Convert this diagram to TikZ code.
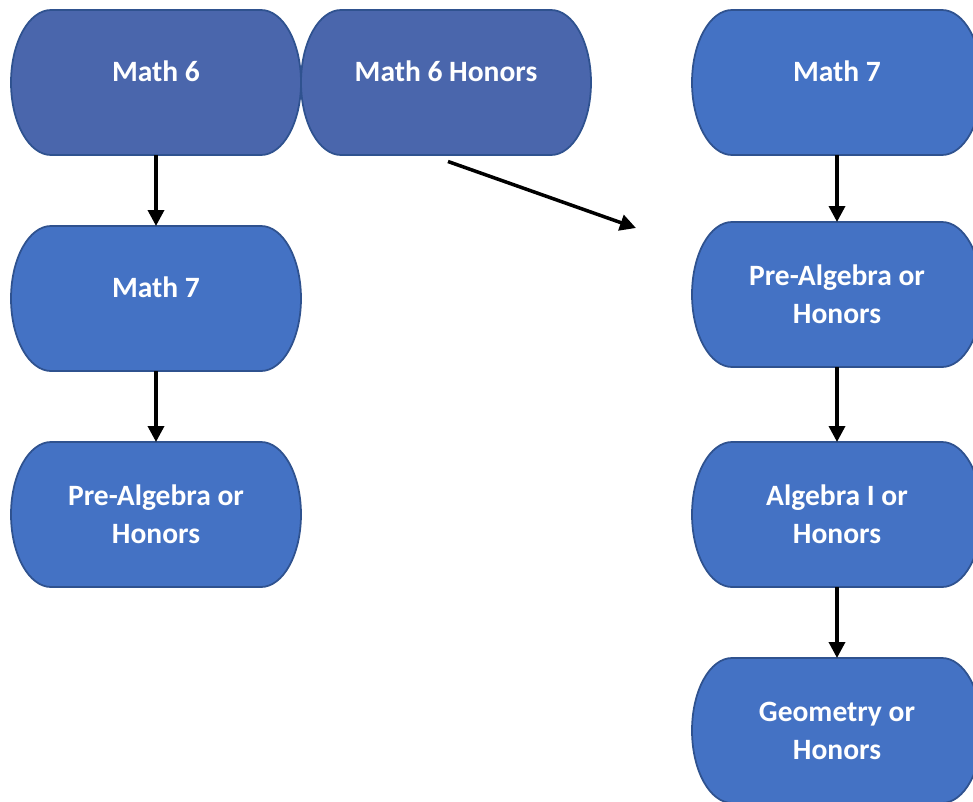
\documentclass[tikz,border=0pt]{standalone}
\usepackage{fontspec}
\setmainfont{Carlito}
\usetikzlibrary{calc,positioning,arrows.meta,backgrounds}
\definecolor{topblue}{RGB}{74,102,172}
\definecolor{boxblue}{RGB}{68,114,196}
\definecolor{boxline}{RGB}{47,82,143}

\begin{document}
\begin{tikzpicture}[
		course/.style={minimum width=5.8cm,minimum height=2.9cm,outer sep=0pt,inner sep=2pt,align=center,text=white,font=\fontsize{16.8}{21.6}\selectfont\bfseries},
		oneline/.style={text height=0.37cm,text depth=0.4cm},
		boxshape/.style={draw=boxline,line width=1pt},
		flow/.style={line width=2pt,-{Triangle[length=0.32cm,width=0.32cm]}}]
		\useasboundingbox (0,0) rectangle (19.46,-16.02);
		% left column
		\node(m6) [course,oneline] at (3.12,-1.65) {Math 6};
		\node(m6h) [course,oneline,right=0 of m6] {Math 6 Honors};
		\node(m7a) [course,oneline,below=1.42 of m6] {Math 7};
		\node(prealga) [course,below=1.42 of m7a] {Pre-Algebra or\\Honors};
		% right column
		\node(m7b) [course,oneline] at (16.74,-1.65) {Math 7};
		\node(prealgb) [course,below=1.34 of m7b] {Pre-Algebra or\\Honors};
		\node(algone) [course,below=1.5 of prealgb] {Algebra I or\\Honors};
		\node(geom) [course,below=1.42 of algone] {Geometry or\\Honors};
		\draw[flow] (m6) -- (m7a);
		\draw[flow] (m7a) -- (prealga);
		\draw[flow] (m7b) -- (prealgb);
		\draw[flow] (prealgb) -- (algone);
		\draw[flow] (algone) -- (geom);
		\coordinate (jumpfrom) at ($(m6h.south)+(0.04,-0.13)$);
		\coordinate (jumpto) at (12.72,-4.56);
		\draw[flow] (jumpfrom) -- (jumpto);
		\begin{scope}[on background layer]
			\foreach \n/\col in {m6/topblue,m6h/topblue,m7a/boxblue,prealga/boxblue,m7b/boxblue,prealgb/boxblue,algone/boxblue,geom/boxblue}
				\draw[boxshape,fill=\col] ($(\n.north west)+(0.8,0)$) -- ($(\n.north east)+(-0.8,0)$) arc[start angle=90,end angle=-90,x radius=0.8,y radius=1.45] -- ($(\n.south west)+(0.8,0)$) arc[start angle=270,end angle=90,x radius=0.8,y radius=1.45] -- cycle;
		\end{scope}
	\end{tikzpicture}
\end{document}
